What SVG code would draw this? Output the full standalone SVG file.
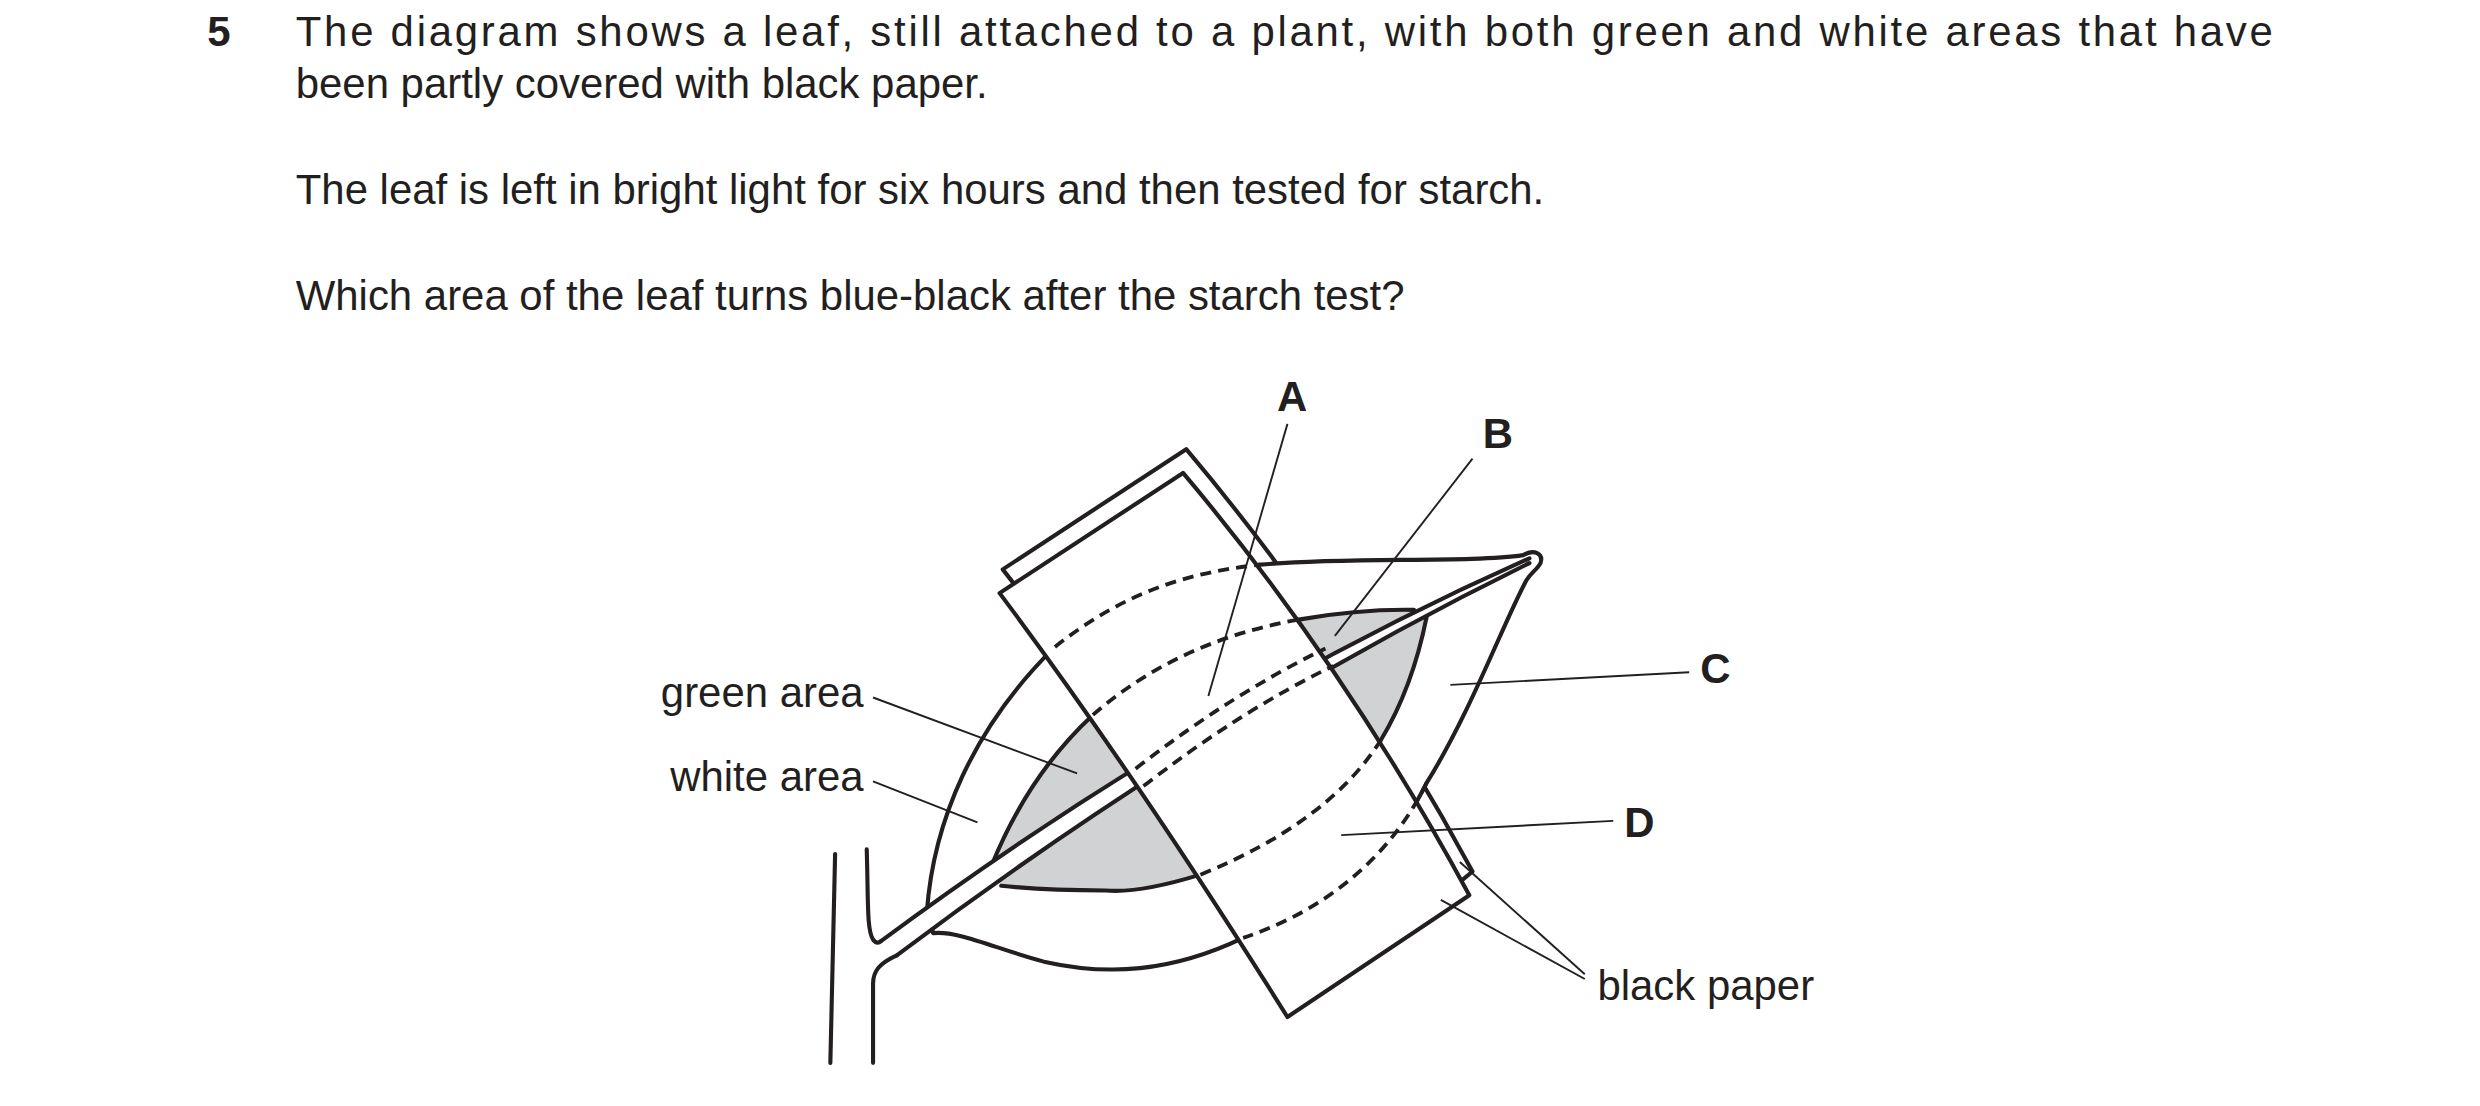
<svg xmlns="http://www.w3.org/2000/svg" width="2480" height="1106" viewBox="0 0 2480 1106">
<style>
.t{font-family:"Liberation Sans",Arial,sans-serif;font-size:26.5px;fill:#231f20}
.b{font-weight:bold}
.o{fill:none;stroke:#231f20;stroke-width:2.6;stroke-linejoin:round;stroke-linecap:round}
.w{fill:#fff;stroke:#231f20;stroke-width:2.6;stroke-linejoin:round}
.d{fill:none;stroke:#231f20;stroke-width:2.4;stroke-dasharray:7 4.5}
.p{fill:none;stroke:#231f20;stroke-width:1.2}
</style>
<rect width="2480" height="1106" fill="#fff"/>
<g transform="scale(1.58163)">
<g id="question">
<text class="t b" x="131" y="29">5</text>
<text class="t" x="187" y="29" textLength="1250" lengthAdjust="spacing">The diagram shows a leaf, still attached to a plant, with both green and white areas that have</text>
<text class="t" x="187" y="62">been partly covered with black paper.</text>
<text class="t" x="187" y="129">The leaf is left in bright light for six hours and then tested for starch.</text>
<text class="t" x="187" y="196">Which area of the leaf turns blue-black after the starch test?</text>
</g>
<g id="back-paper">
<path d="M641,369 L634,360 L750,284 Q852,405 931,551 L925,556" class="o" fill="#fff" style="fill:#fff"/>
</g>
<g id="leaf">
<path class="w" d="M586,577 C590,520 615,460 667,409 C710,375 750,362 797,357 C850,352 930,356 963,351 C970,347 976,350 974,356 C972,360 968,362 965,367 C950,395 930,450 902,495 C880,540 840,575 786,593 C740,615 700,617 660,608 C630,600 605,588 590,590 Z"/>
<path d="M626.6,548 Q650,490 691,452 Q745,405 822,391.6 Q860,385 894,385.6 L902,390 C898,410 890,440 873,468 Q840,520 759,553 Q720,565 699,563 Q660,563 633,560 Z" fill="#d1d2d4" stroke="none"/>
<path class="o" d="M626.6,548 Q650,490 691,452 Q745,405 822,391.6 Q860,385 894,385.6"/>
<path class="o" d="M902,390 C898,410 890,440 873,468 Q840,520 759,553 Q720,565 699,563 Q660,563 633,560"/>
</g>
<g id="stem-midrib">
<path d="M557,595 Q760,445 967,353 L967,356 Q765,455 567,604 Z" fill="#fff" stroke="none"/>
<path class="o" d="M557,595 Q760,445 967,353"/>
<path class="o" d="M567,604 Q765,455 967,356"/>
<path class="o" d="M528,540 L525,672"/>
<path class="o" d="M548,537 C549,570 548,588 552,594 C554,597 556,596 557,595"/>
<path class="o" d="M552,672 L552,622 C552,614 556,609 567,604"/>
</g>
<g id="front-paper">
<path class="w" d="M632,375 L748,299 Q850,420 929,566 L814,643 Q718,490 632,375 Z"/>
</g>
<g id="hidden-lines">
<path class="d" d="M667,409 C710,375 750,362 797,357"/>
<path class="d" d="M691,452 Q745,405 822,391.6"/>
<path class="d" d="M759,553 Q840,520 873,468"/>
<path class="d" d="M902,495 C880,540 840,575 786,593"/>
<path class="d" d="M718,486 Q780,438 838,410"/>
<path class="d" d="M723,497 Q785,449 843,421"/>
</g>
<g id="connectors">
<path class="p" d="M814,268 L764,440"/>
<path class="p" d="M931,290 L844,402"/>
<path class="p" d="M1068,425 L917,433"/>
<path class="p" d="M1020,519 L848,528"/>
<path class="p" d="M552,441 L681,489"/>
<path class="p" d="M552,494 L618,520"/>
<path class="p" d="M1002,619 L911,569"/>
<path class="p" d="M1002,616 L923,545"/>
</g>
<g id="labels">
<text class="t b" x="817" y="260" text-anchor="middle">A</text>
<text class="t b" x="947" y="283" text-anchor="middle">B</text>
<text class="t b" x="1075" y="432">C</text>
<text class="t b" x="1027" y="529">D</text>
<text class="t" x="546" y="447" text-anchor="end">green area</text>
<text class="t" x="546" y="500" text-anchor="end">white area</text>
<text class="t" x="1010" y="632">black paper</text>
</g>
</g>
</svg>
